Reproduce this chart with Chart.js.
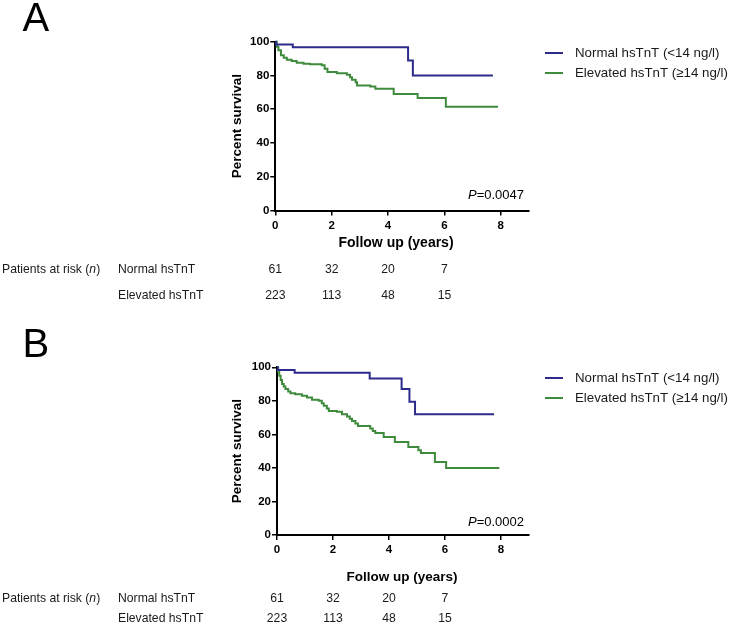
<!DOCTYPE html>
<html>
<head>
<meta charset="utf-8">
<script src="https://cdn.jsdelivr.net/npm/chart.js@4.4.1/dist/chart.umd.min.js"></script>
<style>
body { margin: 0; background: #fff; width: 731px; height: 622px; overflow: hidden; position: relative; }
.panel { position: absolute; left: 0; width: 731px; height: 311px; }
</style>
</head>
<body>
<div class="panel" style="top:0"><canvas id="chartA" width="731" height="311"></canvas></div>
<div class="panel" style="top:311px"><canvas id="chartB" width="731" height="311"></canvas></div>
<script>
// x ticks and numbers at risk (same for both panels)
const xTicks = [0, 2, 4, 6, 8];
const riskTimes = [0, 2, 4, 6];
const riskNormal = [61, 32, 20, 7];
const riskElevated = [223, 113, 48, 15];

// Panel A - Kaplan-Meier steps
const normalTimeA = [0, 0.03, 0.62, 4.71, 4.88, 7.72];
const normalSurvA = [100, 98.4, 96.7, 88.9, 80.0, 80.0];
const elevTimeA = [0, 0.05, 0.11, 0.2, 0.3, 0.41, 0.58, 0.76, 1.0, 1.23, 1.65, 1.75, 1.85, 2.18, 2.54, 2.65, 2.72, 2.85, 2.9, 3.37, 3.55, 4.2, 5.05, 6.05, 7.9];
const elevSurvA = [100, 97, 95, 92, 90.5, 89.3, 88.5, 87.6, 87, 86.6, 86, 84, 82, 81.3, 80.4, 79, 77.5, 76, 74, 73.4, 72.2, 69, 66.6, 61.5, 61.5];

// Panel B
const normalTimeB = [0, 0.03, 0.63, 3.31, 4.45, 4.73, 4.93, 7.75];
const normalSurvB = [100, 98.4, 96.7, 93.3, 87, 79.5, 72, 72];
const elevTimeB = [0, 0.04, 0.08, 0.13, 0.18, 0.24, 0.3, 0.4, 0.48, 0.65, 0.89, 1.07, 1.25, 1.49, 1.6, 1.67, 1.78, 1.85, 2.14, 2.32, 2.5, 2.6, 2.68, 2.8, 2.89, 3.33, 3.42, 3.51, 3.81, 4.21, 4.69, 5.05, 5.14, 5.64, 6.04, 7.94];
const elevSurvB = [100, 97.5, 95, 92.5, 90, 88.5, 87, 85.5, 84.6, 84, 83, 82, 80.7, 80, 78.5, 77, 75.5, 74, 73.5, 72, 70.7, 69.3, 68, 66.5, 65, 63.5, 62, 60.8, 58.4, 55.5, 52.5, 50.5, 48.9, 43.5, 40, 40];

const FONT = '"Liberation Sans", Arial, Helvetica, sans-serif';
const BLUE = "#2c2a8a";
const GREEN = "#3e8b3e";

function toPoints(t, s) {
    return t.map((x, i) => ({ x: x, y: s[i] }));
}

// letter, legend, p value, axis titles and the at-risk table
const decor = {
    id: "decor",
    afterDraw(chart, args, o) {
        const ctx = chart.ctx;
        const xs = chart.scales.x;
        const ys = chart.scales.y;
        ctx.save();
        ctx.fillStyle = "#000";
        ctx.textBaseline = "alphabetic";
        ctx.textAlign = "left";
        ctx.font = "40px " + FONT;
        ctx.fillText(o.letter, 22.5, o.letterY);

        ctx.textBaseline = "middle";

        // y title
        ctx.save();
        ctx.translate(237.5, (ys.top + ys.bottom) / 2);
        ctx.rotate(-Math.PI / 2);
        ctx.font = "bold 13.5px " + FONT;
        ctx.textAlign = "center";
        ctx.fillText("Percent survival", 0, 0);
        ctx.restore();

        // x title
        ctx.font = "bold " + o.xTitleSize + "px " + FONT;
        ctx.textAlign = "center";
        ctx.fillText("Follow up (years)", o.xTitleX, o.xTitleY);

        // p value
        ctx.textAlign = "left";
        ctx.font = "13px " + FONT;
        const rest = "=" + o.pValue;
        const wRest = ctx.measureText(rest).width;
        ctx.font = "italic 13px " + FONT;
        const wP = ctx.measureText("P").width;
        const px = 524 - wRest - wP;
        ctx.fillText("P", px, o.pY);
        ctx.font = "13px " + FONT;
        ctx.fillText(rest, px + wP, o.pY);

        // legend
        ctx.fillStyle = "#1a1a1a";
        ctx.font = "13.3px " + FONT;
        const labels = ["Normal hsTnT (<14 ng/l)", "Elevated hsTnT (\u226514 ng/l)"];
        const cols = [BLUE, GREEN];
        labels.forEach((lab, i) => {
            const y = o.legendY + i * 20;
            ctx.strokeStyle = cols[i];
            ctx.lineWidth = 2;
            ctx.beginPath();
            ctx.moveTo(545, y);
            ctx.lineTo(563, y);
            ctx.stroke();
            ctx.fillText(lab, 575, y);
        });

        // patients at risk
        ctx.font = "12.2px " + FONT;
        ctx.textAlign = "left";
        let x = 2;
        const y1 = o.riskY[0], y2 = o.riskY[1];
        ctx.fillText("Patients at risk (", x, y1);
        x += ctx.measureText("Patients at risk (").width;
        ctx.font = "italic 12.2px " + FONT;
        ctx.fillText("n", x, y1);
        x += ctx.measureText("n").width;
        ctx.font = "12.2px " + FONT;
        ctx.fillText(")", x, y1);
        ctx.fillText("Normal hsTnT", 118, y1);
        ctx.fillText("Elevated hsTnT", 118, y2);
        ctx.textAlign = "center";
        riskTimes.forEach((t, i) => {
            const cx = xs.getPixelForValue(t);
            ctx.fillText(String(riskNormal[i]), cx, y1);
            ctx.fillText(String(riskElevated[i]), cx, y2);
        });
        ctx.restore();
    }
};

function makeChart(id, normT, normS, elevT, elevS, pad, deco) {
    return new Chart(document.getElementById(id), {
        type: "line",
        data: {
            datasets: [
                { label: "Normal hsTnT", data: toPoints(normT, normS), borderColor: BLUE, borderWidth: 2, stepped: true, pointRadius: 0, fill: false, clip: 4 },
                { label: "Elevated hsTnT", data: toPoints(elevT, elevS), borderColor: GREEN, borderWidth: 2, stepped: true, pointRadius: 0, fill: false, clip: 4 }
            ]
        },
        options: {
            responsive: false,
            animation: false,
            layout: { padding: pad },
            plugins: {
                legend: { display: false },
                tooltip: { enabled: false },
                decor: deco
            },
            scales: {
                x: {
                    type: "linear",
                    min: 0,
                    max: 9,
                    afterFit: s => { s.height = 30; },
                    afterBuildTicks: s => { s.ticks = xTicks.map(v => ({ value: v })); },
                    grid: { display: true, drawOnChartArea: false, drawTicks: true, tickLength: 5, color: "#000", lineWidth: 1.5 },
                    border: { display: true, color: "#000", width: 2 },
                    ticks: { color: "#000", padding: 3, font: { family: FONT, size: 11.5, weight: "bold" }, maxRotation: 0 }
                },
                y: {
                    min: 0,
                    max: 100,
                    afterFit: s => { s.width = 40; },
                    ticks: { stepSize: 20, color: "#000", padding: 1, font: { family: FONT, size: 11.5, weight: "bold" } },
                    grid: { display: true, drawOnChartArea: false, drawTicks: true, tickLength: 5, color: "#000", lineWidth: 1.5 },
                    border: { display: true, color: "#000", width: 2 }
                }
            }
        },
        plugins: [decor]
    });
}

makeChart("chartA", normalTimeA, normalSurvA, elevTimeA, elevSurvA,
    { left: 235.3, right: 202, top: 41.7, bottom: 70.5 },
    { letter: "A", letterY: 31, xTitleX: 396, xTitleY: 243.3, xTitleSize: 14, pValue: "0.0047", pY: 195, legendY: 53, riskY: [270, 296] });

makeChart("chartB", normalTimeB, normalSurvB, elevTimeB, elevSurvB,
    { left: 237, right: 202, top: 56.3, bottom: 57 },
    { letter: "B", letterY: 46, xTitleX: 402, xTitleY: 266.7, xTitleSize: 13.5, pValue: "0.0002", pY: 211, legendY: 67, riskY: [288, 308] });
</script>
</body>
</html>
